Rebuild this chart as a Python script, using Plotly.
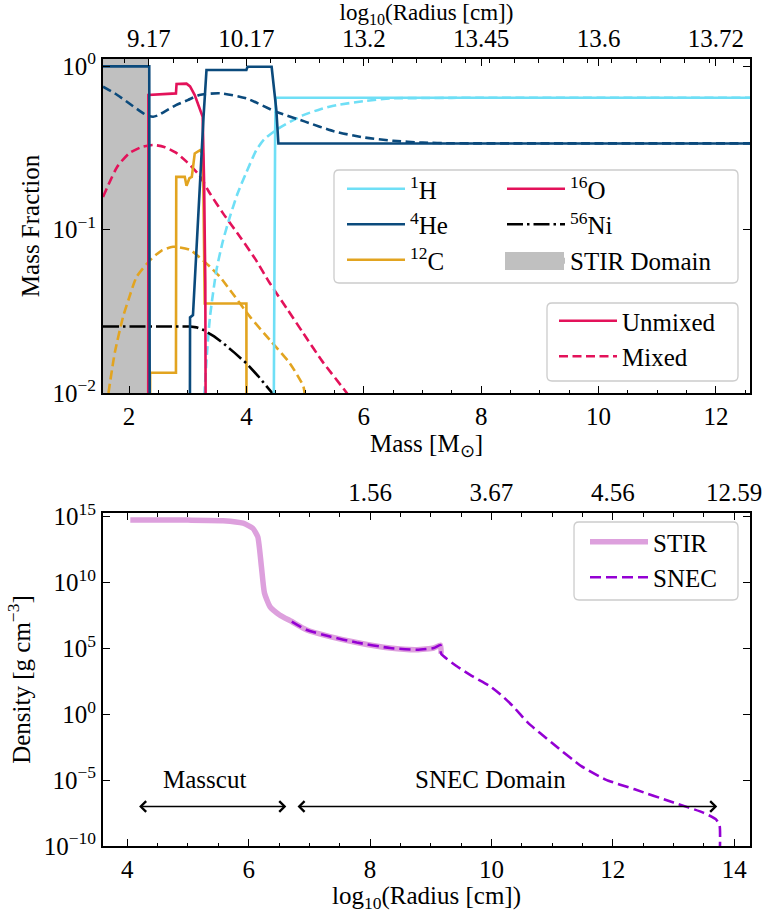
import math
import plotly.graph_objects as go

# ---------------- composition profiles: mass coordinate [Msun] vs mass fraction ----------------
# unmixed progenitor
h_un_m = [4.44, 4.47, 4.49, 4.50, 12.58]
h_un_x = [1e-4, 0.05, 0.40, 0.64, 0.64]

he_un_m = [1.557, 2.345, 2.36, 3.03, 3.04, 3.09, 3.27, 3.30, 3.32, 4.00, 4.02, 4.43, 4.46, 4.51, 4.545, 12.58]
he_un_x = [0.995, 0.995, 1e-4, 1e-4, 0.029, 0.030, 0.49, 0.80, 0.945, 0.945, 0.99, 0.99, 0.78, 0.54, 0.336, 0.336]

c_un_m = [2.355, 2.36, 2.80, 2.805, 2.95, 2.98, 3.03, 3.07, 3.12, 3.21, 3.26, 3.29, 4.00, 4.005]
c_un_x = [1e-4, 0.0133, 0.0133, 0.21, 0.21, 0.185, 0.206, 0.21, 0.292, 0.306, 0.29, 0.0353, 0.0353, 1e-4]

o_un_m = [2.325, 2.33, 2.80, 2.81, 2.98, 3.04, 3.12, 3.20, 3.255, 3.28, 3.30, 3.32]
o_un_x = [1e-4, 0.665, 0.68, 0.777, 0.78, 0.75, 0.665, 0.55, 0.49, 0.19, 0.047, 1e-4]

ni_m = [1.557, 3.04, 3.15, 3.27, 3.45, 3.61, 3.80, 4.00, 4.20, 4.40, 4.48]
ni_x = [0.0255, 0.0255, 0.0252, 0.0243, 0.0222, 0.0201, 0.0176, 0.0152, 0.0127, 0.0105, 0.0096]

# mixed profiles
h_mx_m = [3.27, 3.33, 3.38, 3.49, 3.60, 3.72, 3.85, 4.00, 4.17, 4.30, 4.51, 4.75, 4.97, 5.25, 5.54, 6.00, 6.45, 7.00, 7.50, 8.00, 12.58]
h_mx_x = [0.008, 0.0178, 0.0293, 0.0565, 0.0851, 0.120, 0.166, 0.224, 0.306, 0.355, 0.407, 0.457, 0.501, 0.543, 0.577, 0.610, 0.634, 0.637, 0.639, 0.640, 0.640]

he_mx_m = [1.557, 1.8, 2.0, 2.2, 2.3, 2.41, 2.5, 2.6, 2.8, 3.0, 3.2, 3.55, 4.0, 4.5, 5.0, 5.5, 6.0, 6.5, 7.0, 7.5, 8.0, 12.58]
he_mx_x = [0.748, 0.665, 0.592, 0.526, 0.50, 0.490, 0.50, 0.525, 0.577, 0.619, 0.665, 0.681, 0.634, 0.526, 0.457, 0.398, 0.366, 0.349, 0.340, 0.337, 0.3365, 0.3365]

c_mx_m = [1.65, 1.76, 1.90, 2.0, 2.13, 2.36, 2.55, 2.75, 3.04, 3.2, 3.38, 3.55, 3.72, 4.06, 4.40, 4.74, 4.97, 5.0]
c_mx_x = [0.01, 0.0178, 0.0293, 0.038, 0.0514, 0.065, 0.0741, 0.0785, 0.075, 0.0676, 0.0592, 0.0513, 0.0427, 0.0293, 0.0211, 0.0152, 0.011, 0.0095]

o_mx_m = [1.557, 1.8, 2.0, 2.2, 2.41, 2.6, 2.8, 2.98, 3.2, 3.38, 3.6, 3.89, 4.15, 4.40, 4.7, 4.97, 5.3, 5.71, 5.8]
o_mx_x = [0.158, 0.242, 0.292, 0.318, 0.329, 0.320, 0.295, 0.260, 0.214, 0.166, 0.126, 0.0904, 0.0661, 0.0469, 0.0324, 0.0232, 0.0155, 0.0100, 0.0089]

stir_mass_edge = 2.34

# top axis: radius at selected mass coordinates
mass_top_ticks = [2.34, 4, 6, 8, 10, 12]
radius_top_labels = ["9.17", "10.17", "13.2", "13.45", "13.6", "13.72"]

# ---------------- density profiles: log10 radius [cm] vs density [g cm^-3] ----------------
stir_r = [4.05, 4.5, 5.0, 5.58, 5.91, 6.07, 6.15, 6.21, 6.26, 6.35, 6.51, 6.71, 6.95, 7.34, 7.78, 8.33, 8.77, 9.05, 9.16, 9.17]
stir_rho = [5.6e14, 5.6e14, 5.5e14, 5.0e14, 3.2e14, 1.3e14, 3.0e13, 1.6e11, 1.6e9, 1.5e8, 3.5e7, 1.1e7, 2.6e6, 7.9e5, 2.8e5, 1.07e5, 7.9e4, 1.07e5, 1.8e5, 4.0e4]

snec_r = [6.71, 6.95, 7.34, 7.78, 8.33, 8.77, 9.05, 9.16, 9.17, 9.43, 9.70, 9.98, 10.15, 10.35, 10.6, 10.99, 11.48, 11.88, 12.36, 13.0, 13.49, 13.70, 13.76, 13.76]
snec_rho = [1.1e7, 2.6e6, 7.9e5, 2.8e5, 1.07e5, 7.9e4, 1.07e5, 1.8e5, 4.0e4, 4.4e3, 710, 132, 32, 4.3, 0.23, 7.1e-3, 1.15e-4, 1.1e-5, 2.0e-6, 2.0e-7, 3.4e-8, 1.05e-8, 3.3e-9, 1e-11]

radius_bottom_ticks = [4, 6, 8, 10, 12, 14]
mass_top_labels = ["", "", "1.56", "3.67", "4.56", "12.59"]

masscut_r = [4.17, 6.62]
snec_domain_r = [6.78, 13.72]
arrow_rho = 1e-7

# ---------------- style ----------------
FONT = "Liberation Serif"
FS = 25
C_H = "#6fdff6"
C_HE = "#0b4a7c"
C_C = "#e2a420"
C_O = "#e3125a"
C_NI = "black"
C_STIR = "#c0c0c0"
LW = 2.6
DASH = "9px,4.5px"

W, H = 767, 913
ML, MR, MT, MB = 103, 17, 59, 67
PW, PH = W - ML - MR, H - MT - MB


def px_x(px):
    return (px - ML) / PW


def px_y(py):
    return 1 - (py - MT) / PH


def rounded_box(x0, y0, x1, y1, r=5):
    # rounded rectangle in paper coordinates from pixel corners
    X = lambda v: f"{px_x(v):.5f}"
    Y = lambda v: f"{px_y(v):.5f}"
    p = (f"M{X(x0 + r)},{Y(y0)} L{X(x1 - r)},{Y(y0)} Q{X(x1)},{Y(y0)} {X(x1)},{Y(y0 + r)} "
         f"L{X(x1)},{Y(y1 - r)} Q{X(x1)},{Y(y1)} {X(x1 - r)},{Y(y1)} "
         f"L{X(x0 + r)},{Y(y1)} Q{X(x0)},{Y(y1)} {X(x0)},{Y(y1 - r)} "
         f"L{X(x0)},{Y(y0 + r)} Q{X(x0)},{Y(y0)} {X(x0 + r)},{Y(y0)} Z")
    return dict(type="path", path=p, xref="paper", yref="paper",
                line=dict(color="#cccccc", width=1.3), fillcolor="rgba(255,255,255,0.8)",
                layer="below")


def swatch(x0, y0, x1, y1, color):
    # filled patch used as the legend key of a shaded region
    return dict(type="rect", xref="paper", yref="paper", x0=px_x(x0), x1=px_x(x1),
                y0=px_y(y1), y1=px_y(y0), fillcolor=color, line=dict(width=0), layer="above")


fig = go.Figure()

# STIR domain shading
fig.add_trace(go.Scatter(
    x=[1.557, stir_mass_edge, stir_mass_edge, 1.557, 1.557], y=[1e-3, 1e-3, 10, 10, 1e-3],
    fill="toself", fillcolor=C_STIR, line=dict(width=0, color=C_STIR), mode="lines",
    name="STIR Domain", legend="legend2", legendgroup="g6", legendrank=6, xaxis="x", yaxis="y"))

# mixed profiles (dashed)
for m, xv, col in [(c_mx_m, c_mx_x, C_C), (o_mx_m, o_mx_x, C_O), (h_mx_m, h_mx_x, C_H), (he_mx_m, he_mx_x, C_HE)]:
    fig.add_trace(go.Scatter(x=m, y=xv, mode="lines",
                             line=dict(color=col, width=LW, dash=DASH, shape="spline", smoothing=0.6),
                             showlegend=False, xaxis="x", yaxis="y"))

# unmixed profiles (solid)
fig.add_trace(go.Scatter(x=c_un_m, y=c_un_x, mode="lines", line=dict(color=C_C, width=LW),
                         name="<sup>12</sup>C", legend="legend", legendgroup="g3", legendrank=3, xaxis="x", yaxis="y"))
fig.add_trace(go.Scatter(x=ni_m, y=ni_x, mode="lines", line=dict(color=C_NI, width=LW, dash="16px,4px,2.5px,4px"),
                         name="<sup>56</sup>Ni", legend="legend2", legendgroup="g5", legendrank=5, xaxis="x", yaxis="y"))
fig.add_trace(go.Scatter(x=o_un_m, y=o_un_x, mode="lines", line=dict(color=C_O, width=LW),
                         name="<sup>16</sup>O", legend="legend2", legendgroup="g4", legendrank=4, xaxis="x", yaxis="y"))
fig.add_trace(go.Scatter(x=h_un_m, y=h_un_x, mode="lines", line=dict(color=C_H, width=LW),
                         name="<sup>1</sup>H", legend="legend", legendgroup="g1", legendrank=1, xaxis="x", yaxis="y"))
fig.add_trace(go.Scatter(x=he_un_m, y=he_un_x, mode="lines", line=dict(color=C_HE, width=LW),
                         name="<sup>4</sup>He", legend="legend", legendgroup="g2", legendrank=2, xaxis="x", yaxis="y"))

# line-style key
fig.add_trace(go.Scatter(x=[None], y=[None], mode="lines", line=dict(color=C_O, width=LW),
                         name="Unmixed", legend="legend3", legendgroup="g7", legendrank=7, xaxis="x", yaxis="y"))
fig.add_trace(go.Scatter(x=[None], y=[None], mode="lines", line=dict(color=C_O, width=LW, dash=DASH),
                         name="Mixed", legend="legend3", legendgroup="g8", legendrank=8, xaxis="x", yaxis="y"))
# anchor for the top radius axis
fig.add_trace(go.Scatter(x=[None], y=[None], showlegend=False, xaxis="x2", yaxis="y"))

# density profiles
fig.add_trace(go.Scatter(x=stir_r, y=stir_rho, mode="lines",
                         line=dict(color="#dda0dd", width=5.5, shape="spline", smoothing=0.5),
                         name="STIR", legend="legend4", legendgroup="g9", legendrank=9, xaxis="x3", yaxis="y2"))
fig.add_trace(go.Scatter(x=snec_r, y=snec_rho, mode="lines",
                         line=dict(color="#9400d3", width=2.6, dash="11px,5px", shape="spline", smoothing=0.5),
                         name="SNEC", legend="legend4", legendgroup="g10", legendrank=10, xaxis="x3", yaxis="y2"))
fig.add_trace(go.Scatter(x=[None], y=[None], showlegend=False, xaxis="x4", yaxis="y2"))

tickfont = dict(family=FONT, size=FS, color="black")
titlefont = dict(family=FONT, size=FS, color="black")
common = dict(ticks="inside", ticklen=7, tickwidth=1.3, tickcolor="black", showline=True, linewidth=2,
              linecolor="black", showgrid=False, zeroline=False, tickfont=tickfont, automargin=False)
minor_x = dict(ticks="inside", ticklen=3.5, tickwidth=1, tickcolor="black", showgrid=False)

top_dom = [px_y(393), 1.0]
bot_dom = [0.0, px_y(513)]

legend_common = dict(xanchor="left", yanchor="top", bgcolor="rgba(0,0,0,0)",
                     font=dict(family=FONT, size=FS, color="black"), tracegroupgap=0, itemwidth=58)

fig.update_layout(
    width=W, height=H, margin=dict(l=ML, r=MR, t=MT, b=MB, autoexpand=False),
    paper_bgcolor="white", plot_bgcolor="white",
    font=dict(family=FONT, size=FS, color="black"),
    xaxis=dict(common, domain=[0, 1], anchor="y", range=[1.557, 12.58], tickvals=[2, 4, 6, 8, 10, 12],
               minor=dict(minor_x, tick0=0, dtick=0.5),
               title=dict(text="Mass [M<sub>⊙</sub>]", font=titlefont, standoff=2)),
    xaxis2=dict(common, overlaying="x", anchor="y", side="top", range=[1.557, 12.58],
                tickvals=mass_top_ticks, ticktext=radius_top_labels,
                minor=dict(minor_x, tick0=stir_mass_edge, dtick=0.415),
                title=dict(text="log<sub>10</sub>(Radius [cm])", font=dict(titlefont, size=23), standoff=11)),
    yaxis=dict(common, domain=top_dom, anchor="x", type="log", range=[-2, 0.043], mirror="ticks",
               tickvals=[0.01, 0.1, 1], ticktext=["10<sup>−2</sup>", "10<sup>−1</sup>", "10<sup>0</sup>"],
               title=dict(text="Mass Fraction", font=titlefont, standoff=6)),
    xaxis3=dict(common, domain=[0, 1], anchor="y2", range=[3.6, 14.26], tickvals=radius_bottom_ticks,
                minor=dict(minor_x, tick0=0, dtick=0.5),
                title=dict(text="log<sub>10</sub>(Radius [cm])", font=titlefont, standoff=6)),
    xaxis4=dict(common, overlaying="x3", anchor="y2", side="top", range=[3.6, 14.26],
                tickvals=radius_bottom_ticks, ticktext=mass_top_labels,
                minor=dict(minor_x, tick0=0, dtick=0.5)),
    yaxis2=dict(common, domain=bot_dom, anchor="x3", type="log", range=[-10, 15.28], mirror="ticks",
                tickvals=[1e-10, 1e-5, 1, 1e5, 1e10, 1e15],
                ticktext=["10<sup>−10</sup>", "10<sup>−5</sup>", "10<sup>0</sup>", "10<sup>5</sup>",
                          "10<sup>10</sup>", "10<sup>15</sup>"],
                title=dict(text="Density [g cm<sup>−3</sup>]", font=titlefont, standoff=6)),
    legend=dict(legend_common, x=px_x(342), y=px_y(166)),
    legend2=dict(legend_common, x=px_x(502), y=px_y(166)),
    legend3=dict(legend_common, x=px_x(554), y=px_y(298)),
    legend4=dict(legend_common, x=px_x(585), y=px_y(519)),
    shapes=[rounded_box(334, 170, 738, 283), rounded_box(547, 303, 738, 381), rounded_box(574, 522, 738, 600),
            swatch(505, 252, 564, 270, C_STIR)],
    showlegend=True,
)

# domain arrows and labels (log-axis annotation coordinates are log10 values)
ay = math.log10(arrow_rho)
for r0, r1 in [masscut_r, snec_domain_r]:
    fig.add_annotation(x=r1, y=ay, ax=r0, ay=ay, xref="x3", yref="y2", axref="x3", ayref="y2",
                       text="", showarrow=True, arrowside="end+start", arrowhead=4, startarrowhead=4,
                       arrowsize=1.3, startarrowsize=1.3, arrowwidth=1.6, arrowcolor="black")
fig.add_annotation(x=5.27, y=-4.95, xref="x3", yref="y2", text="Masscut", showarrow=False,
                   font=dict(family=FONT, size=FS, color="black"))
fig.add_annotation(x=9.98, y=-4.95, xref="x3", yref="y2", text="SNEC Domain", showarrow=False,
                   font=dict(family=FONT, size=FS, color="black"))

fig.write_html("out.html")
